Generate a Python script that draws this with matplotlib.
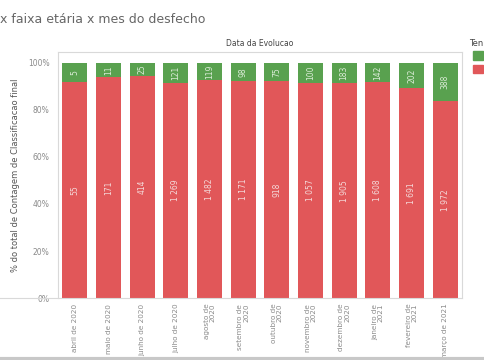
import matplotlib.pyplot as plt
import numpy as np

months = ['abril de 2020', 'maio de 2020', 'junho de 2020', 'julho de 2020',
          'agosto de\n2020', 'setembro de\n2020', 'outubro de\n2020',
          'novembro de\n2020', 'dezembro de\n2020', 'janeiro de\n2021',
          'fevereiro de\n2021', 'março de 2021']
green_counts = [5, 11, 25, 121, 119, 98, 75, 100, 183, 142, 202, 388]
red_counts = [55, 171, 414, 1269, 1482, 1171, 918, 1057, 1905, 1608, 1691, 1972]

GREEN = '#59a14f'
RED = '#e15759'
GRAY = '#8a8a8a'
LINE = '#d9d9d9'


def fmt(n):
    return f'{n:,}'.replace(',', ' ')


green = np.array(green_counts, dtype=float)
red = np.array(red_counts, dtype=float)
total = green + red
red_pct = red / total
green_pct = green / total
x = np.arange(len(months))

fig = plt.figure(figsize=(4.85, 3.6), dpi=100)
ax = fig.add_axes([0.1196, 0.172, 0.833, 0.683])

ax.bar(x, red_pct, width=0.74, color=RED)
ax.bar(x, green_pct, bottom=red_pct, width=0.74, color=GREEN)

for i in range(len(x)):
    ax.text(x[i], red_pct[i] / 2, fmt(red_counts[i]), rotation=90,
            ha='center', va='center', fontsize=5.5, color='#f4dada')
    ax.text(x[i], red_pct[i] + green_pct[i] / 2, fmt(green_counts[i]),
            rotation=90, ha='center', va='center', fontsize=5.5, color='#dcecd8')

ax.set_xlim(-0.5, len(x) - 0.5)
ax.set_ylim(0, 1.045)
ax.set_yticks([0, 0.2, 0.4, 0.6, 0.8, 1.0])
ax.set_yticklabels(['0%', '20%', '40%', '60%', '80%', '100%'])
ax.set_xticks(x)
ax.set_xticklabels(months, rotation=90, va='top', ha='center',
                   multialignment='right', linespacing=1.0)
ax.tick_params(axis='both', length=0, labelsize=5.5, colors=GRAY)
ax.tick_params(axis='x', labelsize=5.2, pad=4)
ax.tick_params(axis='y', pad=6)
for side in ax.spines.values():
    side.set_color(LINE)
    side.set_linewidth(0.8)

ax.set_ylabel('% do total de Contagem de Classificacao final', fontsize=6,
              color='#555555')
ax.yaxis.set_label_coords(-0.095, 0.5)

fig.text(0.0, 0.945, 'x faixa etária x mes do desfecho', fontsize=9,
         color='#666666', va='center')
fig.text(0.536, 0.878, 'Data da Evolucao', fontsize=5.5, color='#444444',
         ha='center', va='center')
fig.text(0.967, 0.88, 'Ten', fontsize=6, color='#444444', va='center')
fig.patches.append(plt.Rectangle((0.975, 0.833), 0.02, 0.025, color=GREEN,
                                 transform=fig.transFigure, figure=fig))
fig.patches.append(plt.Rectangle((0.975, 0.797), 0.02, 0.022, color=RED,
                                 transform=fig.transFigure, figure=fig))
fig.add_artist(plt.Line2D([0, 0.1196], [0.172, 0.172], color=LINE, lw=0.8,
                          transform=fig.transFigure))
fig.add_artist(plt.Line2D([0, 1], [0.004, 0.004], color='#c8c8c8', lw=3,
                          transform=fig.transFigure))

fig.savefig('out.png', dpi=100)
